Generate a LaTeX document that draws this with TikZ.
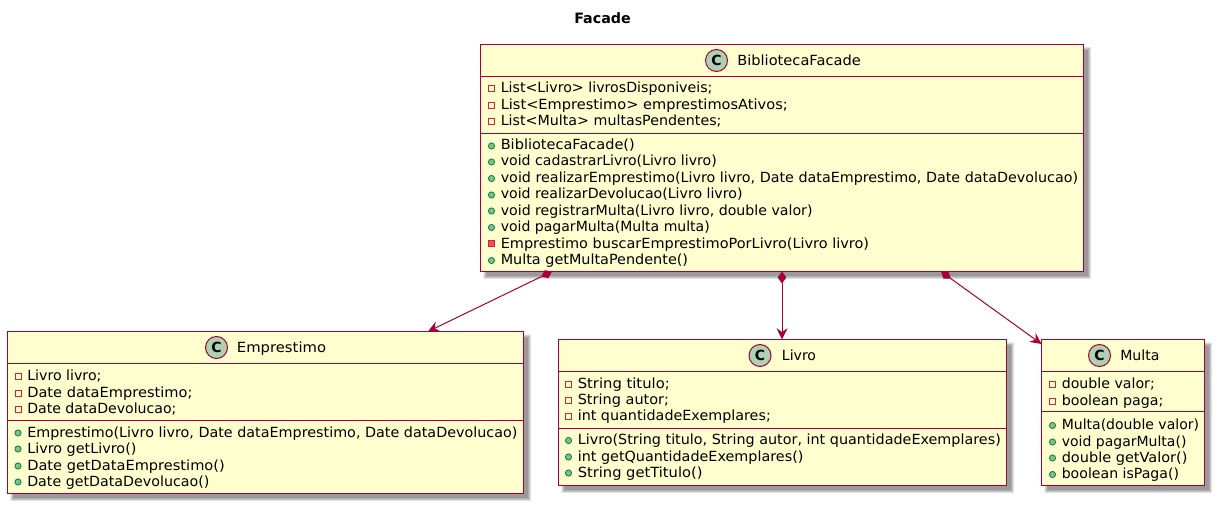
\documentclass[tikz,border=0pt]{standalone}
\usepackage{fontspec}
\usepackage{graphicx}
\setmainfont{DejaVu Sans}
\usetikzlibrary{arrows.meta,calc}
\definecolor{umlborder}{HTML}{A80036}
\definecolor{umlfill}{HTML}{FEFECE}
\definecolor{spotfill}{HTML}{ADD1B2}
\definecolor{privline}{HTML}{C82930}
\definecolor{privfill}{HTML}{F24D5C}
\definecolor{publine}{HTML}{038048}
\definecolor{pubfill}{HTML}{84BE84}
\tikzset{
  x=0.75pt,y=-0.75pt,
  classbox/.style={draw=umlborder,fill=umlfill,line width=0.85pt,rectangle,inner sep=0pt,outer sep=0pt},
  sepline/.style={draw=umlborder,line width=0.75pt},
  member/.style={anchor=base west,inner sep=0pt,font=\fontsize{10.5}{12}\selectfont,text=black},
  spot/.style={circle,draw=umlborder,fill=spotfill,line width=0.75pt,minimum size=16.5pt,inner sep=0pt,font=\bfseries\fontsize{10.5}{12}\selectfont},
  titletext/.style={inner sep=0pt,font=\bfseries\fontsize{10.7}{12}\selectfont},
  compose/.style={draw=umlborder,line width=0.75pt,{Diamond[length=9pt,width=6.5pt,fill=umlborder]}-{Stealth[length=8.5pt,width=8.25pt,inset=3pt,fill=umlborder]}},
}
% a text line set from x to its measured right end
\newcommand{\fitline}[5]{% name x y endx text
  \pgfmathsetlengthmacro{\fitw}{(#4-#2+1.5)*0.75pt}%
  \node[member] (#1) at ({#2-1},#3) {\resizebox{\fitw}{\height}{#5}};%
}
\newcommand{\umlclass}[5]{% name, x1, y1, x2, y2
  \foreach \k in {0,0.5,1,1.5,2,2.5,3,3.5}{%
    \fill[black,opacity=0.06] ({#2+2.5+\k},{#3+2.5+\k}) rectangle ({#4+7.5-\k},{#5+7.5-\k});%
  }%
  \pgfmathsetlengthmacro{\boxw}{(#4-#2)*0.75pt}%
  \pgfmathsetlengthmacro{\boxh}{(#5-#3)*0.75pt}%
  \node[classbox,minimum width=\boxw,minimum height=\boxh] (#1) at ({(#2+#4)/2},{(#3+#5)/2}) {};%
}
\newcommand{\privattr}[5]{% name x y endx text
  \draw[privline,line width=0.75pt,fill=umlfill] ({#2-13},{#3-7}) rectangle ({#2-7},{#3-1});%
  \fitline{#1}{#2}{#3}{#4}{#5}%
}
\newcommand{\pubmeth}[5]{%
  \draw[publine,line width=0.6pt,fill=pubfill] ({#2-10},{#3-4}) circle[radius=3.1];%
  \fitline{#1}{#2}{#3}{#4}{#5}%
}
\newcommand{\privmeth}[5]{%
  \draw[privline,line width=0.6pt,fill=privfill] ({#2-13},{#3-7.5}) rectangle ({#2-7},{#3-1.5});%
  \fitline{#1}{#2}{#3}{#4}{#5}%
}
\begin{document}
\begin{tikzpicture}
\useasboundingbox (0,0) rectangle (1217,506);
\fill[white] (0,0) rectangle (1217,506);
\node[titletext] (title) at (602.5,18) {Facade};

% BibliotecaFacade
\umlclass{facade}{480.5}{44.5}{1083.5}{271.5}
\draw[sepline] (480.5,76.5) -- (1083.5,76.5);
\draw[sepline] (480.5,133.5) -- (1083.5,133.5);
\node[spot] (facadespot) at (716.5,60.5) {C};
\fitline{facadename}{738}{65.5}{860}{BibliotecaFacade}
\privattr{f1}{501.5}{93}{711.7}{List<Livro> livrosDisponiveis;}
\privattr{f2}{501.5}{110}{787}{List<Emprestimo> emprestimosAtivos;}
\privattr{f3}{501.5}{126}{720.7}{List<Multa> multasPendentes;}
\pubmeth{f4}{501.5}{150}{634}{BibliotecaFacade()}
\pubmeth{f5}{501.5}{166}{716}{void cadastrarLivro(Livro livro)}
\pubmeth{f6}{501.5}{182.5}{1077.3}{void realizarEmprestimo(Livro livro, Date dataEmprestimo, Date dataDevolucao)}
\pubmeth{f7}{501.5}{199}{741.7}{void realizarDevolucao(Livro livro)}
\pubmeth{f8}{501.5}{215}{811.7}{void registrarMulta(Livro livro, double valor)}
\pubmeth{f9}{501.5}{231.5}{709}{void pagarMulta(Multa multa)}
\privmeth{f10}{501.5}{248}{868.3}{Emprestimo buscarEmprestimoPorLivro(Livro livro)}
\pubmeth{f11}{501.5}{264.5}{687.3}{Multa getMultaPendente()}

% Emprestimo
\umlclass{emp}{7.5}{331.5}{523.5}{493.5}
\draw[sepline] (7.5,363.5) -- (523.5,363.5);
\draw[sepline] (7.5,420.5) -- (523.5,420.5);
\node[spot] (empspot) at (216.5,347.5) {C};
\fitline{empname}{237.7}{352.5}{325.3}{Emprestimo}
\privattr{e1}{28}{380}{100.7}{Livro livro;}
\privattr{e2}{28}{397}{191.7}{Date dataEmprestimo;}
\privattr{e3}{28}{413}{175.7}{Date dataDevolucao;}
\pubmeth{e4}{28}{437}{516.7}{Emprestimo(Livro livro, Date dataEmprestimo, Date dataDevolucao)}
\pubmeth{e5}{28}{453}{135.7}{Livro getLivro()}
\pubmeth{e6}{28}{470}{224}{Date getDataEmprestimo()}
\pubmeth{e7}{28}{486}{208.7}{Date getDataDevolucao()}

% Livro
\umlclass{livro}{558.5}{339.5}{1006.5}{485.5}
\draw[sepline] (558.5,371.5) -- (1006.5,371.5);
\draw[sepline] (558.5,428.5) -- (1006.5,428.5);
\node[spot] (livrospot) at (760,355.5) {C};
\fitline{livroname}{782.7}{360.5}{815.3}{Livro}
\privattr{l1}{578.5}{388}{669}{String titulo;}
\privattr{l2}{578.5}{404}{668.3}{String autor;}
\privattr{l3}{578.5}{420.5}{770}{int quantidadeExemplares;}
\pubmeth{l4}{578.5}{444.5}{1000}{Livro(String titulo, String autor, int quantidadeExemplares)}
\pubmeth{l5}{578.5}{461}{802.7}{int getQuantidadeExemplares()}
\pubmeth{l6}{578.5}{477}{701.7}{String getTitulo()}

% Multa
\umlclass{multa}{1041.5}{339.5}{1204.5}{485.5}
\draw[sepline] (1041.5,371.5) -- (1204.5,371.5);
\draw[sepline] (1041.5,411.5) -- (1204.5,411.5);
\node[spot] (multaspot) at (1099.5,355.5) {C};
\fitline{multaname}{1121}{360.5}{1158.7}{Multa}
\privattr{m1}{1062.5}{388}{1154}{double valor;}
\privattr{m2}{1062.5}{405}{1162.7}{boolean paga;}
\pubmeth{m3}{1062.5}{429.5}{1198.3}{Multa(double valor)}
\pubmeth{m4}{1062.5}{446}{1185.7}{void pagarMulta()}
\pubmeth{m5}{1062.5}{462}{1186.7}{double getValor()}
\pubmeth{m6}{1062.5}{478.5}{1178.3}{boolean isPaga()}

% connectors
\coordinate (fa) at ($(facade.south west)+(71.5,0)$);
\coordinate (fb) at ($(facade.south west)+(301.5,0)$);
\coordinate (fc) at ($(facade.south west)+(460.5,0)$);
\coordinate (ta) at ($(emp.north west)+(420.5,0)$);
\coordinate (tb) at ($(livro.north west)+(223.5,0)$);
\coordinate (tc) at ($(multa.north west)+(0,4.5)$);
\draw[compose] (fa) -- (ta);
\draw[compose] (fb) -- (tb);
\draw[compose] (fc) -- (tc);
\end{tikzpicture}
\end{document}
